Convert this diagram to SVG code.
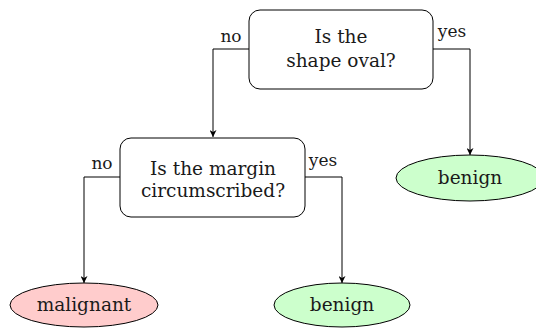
<svg xmlns="http://www.w3.org/2000/svg" width="536" height="329" viewBox="0 0 536 329">
<defs>
<marker id="arr" viewBox="0 0 10 10" refX="10" refY="5" markerWidth="7" markerHeight="7" orient="auto" markerUnits="userSpaceOnUse">
<path d="M0,0 L10,5 L0,10 L3,5 Z" fill="#000"/>
</marker>
<style>
text{font-family:"DejaVu Serif",serif;font-size:18.5px;fill:#1a1a1a;text-anchor:middle}
.box{fill:#fff;stroke:#000;stroke-width:1}
.edge{fill:none;stroke:#000;stroke-width:1}
.lbl{font-size:17px}
</style>
</defs>
<rect width="536" height="329" fill="#fff"/>
<g id="connectors">
<path class="edge" d="M249,49 H213 V137" marker-end="url(#arr)"/>
<path class="edge" d="M433,49 H470 V155" marker-end="url(#arr)"/>
<path class="edge" d="M120,177 H84 V283" marker-end="url(#arr)"/>
<path class="edge" d="M305,177 H342 V283" marker-end="url(#arr)"/>
<text class="lbl" x="231" y="42">no</text>
<text class="lbl" x="452" y="37">yes</text>
<text class="lbl" x="102" y="169">no</text>
<text class="lbl" x="323" y="166">yes</text>
</g>
<g id="q1">
<rect class="box" x="249" y="10" width="184" height="79" rx="11"/>
<text x="341" y="43">Is the</text>
<text x="341" y="67">shape oval?</text>
</g>
<g id="q2">
<rect class="box" x="120" y="138" width="185" height="79" rx="11"/>
<text x="213" y="175">Is the margin</text>
<text x="213" y="197">circumscribed?</text>
</g>
<g id="benign1">
<ellipse cx="470" cy="178" rx="74" ry="23" fill="#ccffcc" stroke="#000"/>
<text x="470" y="184">benign</text>
</g>
<g id="malignant">
<ellipse cx="84" cy="305" rx="74" ry="22" fill="#ffcccc" stroke="#000"/>
<text x="84" y="311">malignant</text>
</g>
<g id="benign2">
<ellipse cx="342" cy="305" rx="68" ry="22" fill="#ccffcc" stroke="#000"/>
<text x="342" y="311">benign</text>
</g>
</svg>
